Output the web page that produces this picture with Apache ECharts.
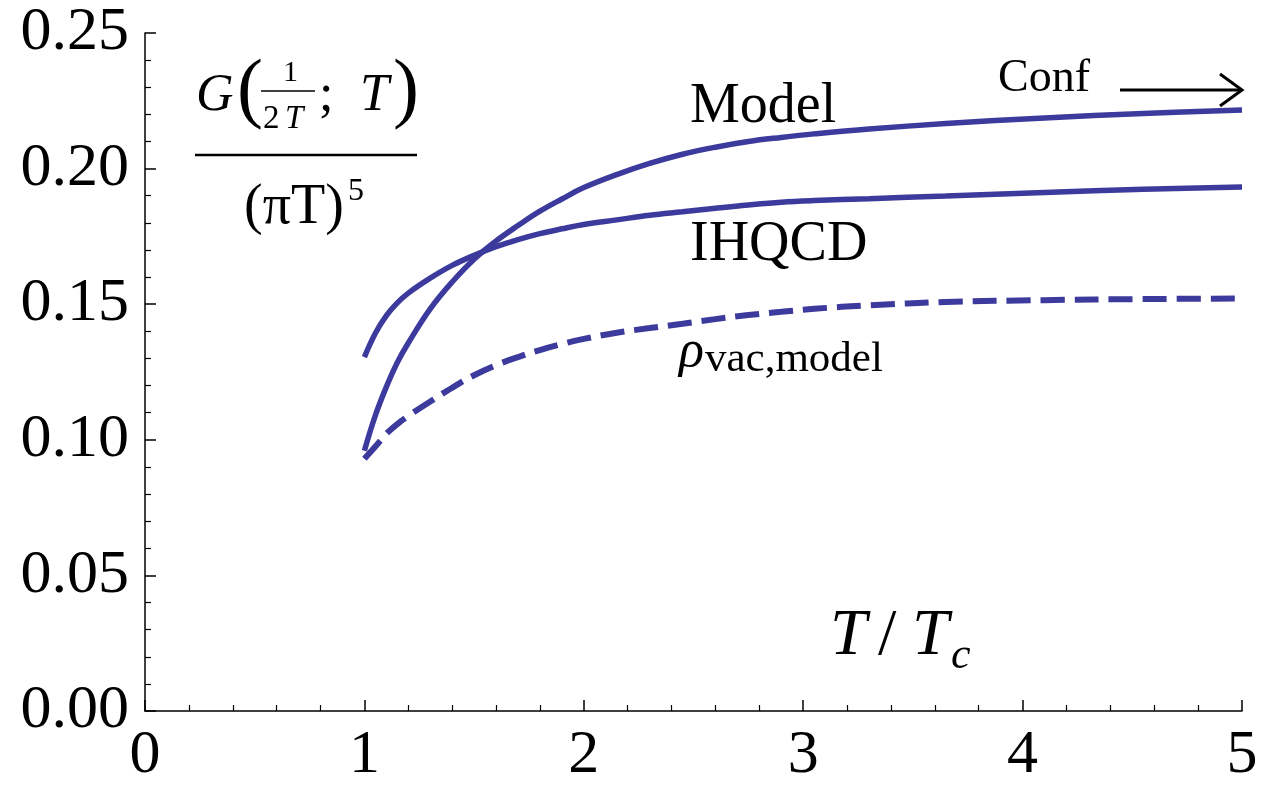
<!DOCTYPE html>
<html>
<head>
<meta charset="utf-8">
<script src="https://cdn.jsdelivr.net/npm/echarts@6/dist/echarts.min.js"></script>
<style>
  html, body { margin: 0; padding: 0; background: #fff; }
  #chart { width: 1261px; height: 788px; }
</style>
</head>
<body>
<div id="chart"></div>
<script>
// T / Tc sample points
const tValues = [1.0, 1.05, 1.1, 1.15, 1.2, 1.3, 1.4, 1.5, 1.6, 1.7, 1.8, 1.9, 2.0, 2.15, 2.3, 2.45, 2.6, 2.75, 2.9, 3.05, 3.3, 3.65, 4.1, 4.55, 5.0]
const modelValues = [0.096, 0.109, 0.1195, 0.1285, 0.1357, 0.1483, 0.1582, 0.1666, 0.1733, 0.179, 0.1843, 0.1888, 0.193, 0.1978, 0.2019, 0.2053, 0.2079, 0.21, 0.2115, 0.2128, 0.2146, 0.2166, 0.2187, 0.2203, 0.2216]
const ihqcdValues = [0.1305, 0.1393, 0.1458, 0.1505, 0.1541, 0.1596, 0.1643, 0.168, 0.1712, 0.1738, 0.176, 0.1778, 0.1794, 0.1811, 0.1828, 0.1841, 0.1854, 0.1866, 0.1876, 0.1882, 0.1889, 0.1899, 0.1912, 0.1924, 0.1932]
const vacValues = [0.093, 0.0975, 0.1022, 0.1058, 0.1088, 0.1141, 0.1192, 0.1238, 0.1275, 0.1305, 0.1331, 0.1353, 0.1372, 0.1395, 0.1412, 0.1428, 0.1445, 0.146, 0.1472, 0.1483, 0.1496, 0.1508, 0.1515, 0.1519, 0.1521]
const xTicks = [0, 1, 2, 3, 4, 5]
const yTicks = [0, 0.05, 0.10, 0.15, 0.20, 0.25]

const serif = '"Liberation Serif", "DejaVu Serif", serif'
const ink = '#3c3a9c'

function pairs(xs, ys) {
  return xs.map((x, i) => [x, ys[i]])
}

function txt(left, top, text, font) {
  return { type: 'text', left: left, top: top, style: { text: text, font: font, fill: '#000' } }
}

const chart = echarts.init(document.getElementById('chart'), null, { renderer: 'canvas' })

chart.setOption({
  backgroundColor: '#ffffff',
  animation: false,
  grid: {
    left: 145,
    right: 19,
    top: 33,
    bottom: 77
  },
  xAxis: {
    type: 'value',
    min: xTicks[0],
    max: xTicks[xTicks.length - 1],
    interval: 1,
    splitLine: { show: false },
    axisLine: { lineStyle: { color: '#000', width: 1.5 } },
    axisTick: { inside: true, length: 11, lineStyle: { color: '#000', width: 1.5 } },
    minorTick: { show: true, splitNumber: 5, length: 6, lineStyle: { color: '#000', width: 1.2 } },
    axisLabel: {
      margin: 14,
      fontFamily: serif,
      fontSize: 62,
      color: '#000',
      formatter: v => String(v)
    }
  },
  yAxis: {
    type: 'value',
    min: yTicks[0],
    max: yTicks[yTicks.length - 1],
    interval: 0.05,
    splitLine: { show: false },
    axisLine: { show: true, lineStyle: { color: '#000', width: 1.5 } },
    axisTick: { show: true, inside: true, length: 11, lineStyle: { color: '#000', width: 1.5 } },
    minorTick: { show: true, splitNumber: 5, length: 6, lineStyle: { color: '#000', width: 1.2 } },
    axisLabel: {
      margin: 16,
      fontFamily: serif,
      fontSize: 62,
      color: '#000',
      formatter: v => v.toFixed(2)
    }
  },
  series: [
    {
      name: 'Model',
      type: 'line',
      smooth: 0.4,
      showSymbol: false,
      lineStyle: { color: ink, width: 5.5 },
      data: pairs(tValues, modelValues)
    },
    {
      name: 'IHQCD',
      type: 'line',
      smooth: 0.4,
      showSymbol: false,
      lineStyle: { color: ink, width: 5.5 },
      data: pairs(tValues, ihqcdValues)
    },
    {
      name: 'rho vac,model',
      type: 'line',
      smooth: 0.4,
      showSymbol: false,
      lineStyle: { color: ink, width: 6, type: [24, 10] },
      data: pairs(tValues, vacValues)
    }
  ],
  graphic: [
    // y axis title: G(1/2T; T) / (πT)^5
    txt(196, 70, 'G', 'italic 52px ' + serif),
    txt(237, 54, '(', '78px ' + serif),
    txt(283, 58, '1', '30px ' + serif),
    { type: 'line', shape: { x1: 261, y1: 91, x2: 315, y2: 91 }, style: { stroke: '#000', lineWidth: 1.5 } },
    txt(263, 103, '2', '33px ' + serif),
    txt(285, 103, 'T', 'italic 33px ' + serif),
    txt(319, 70, ';', '52px ' + serif),
    txt(360, 70, 'T', 'italic 52px ' + serif),
    txt(393, 54, ')', '78px ' + serif),
    { type: 'line', shape: { x1: 195, y1: 155, x2: 417, y2: 155 }, style: { stroke: '#000', lineWidth: 2.5 } },
    txt(244, 180, '(πT)', '56px ' + serif),
    txt(348, 176, '5', '32px ' + serif),
    // curve labels
    txt(690, 79, 'Model', '56px ' + serif),
    txt(690, 217, 'IHQCD', '56px ' + serif),
    txt(679, 326, 'ρ', 'italic 52px ' + serif),
    txt(705, 338, 'vac,model', '43px ' + serif),
    txt(998, 56, 'Conf', '46px ' + serif),
    { type: 'line', shape: { x1: 1120, y1: 90, x2: 1242, y2: 90 }, style: { stroke: '#000', lineWidth: 3 } },
    { type: 'polyline', shape: { points: [[1220, 74], [1242, 90], [1220, 106]] }, style: { stroke: '#000', lineWidth: 3, fill: null } },
    // x axis title
    txt(830, 604, 'T', 'italic 66px ' + serif),
    txt(878, 604, '/', '66px ' + serif),
    txt(912, 604, 'T', 'italic 66px ' + serif),
    txt(951, 634, 'c', 'italic 44px ' + serif)
  ]
})
</script>
</body>
</html>
